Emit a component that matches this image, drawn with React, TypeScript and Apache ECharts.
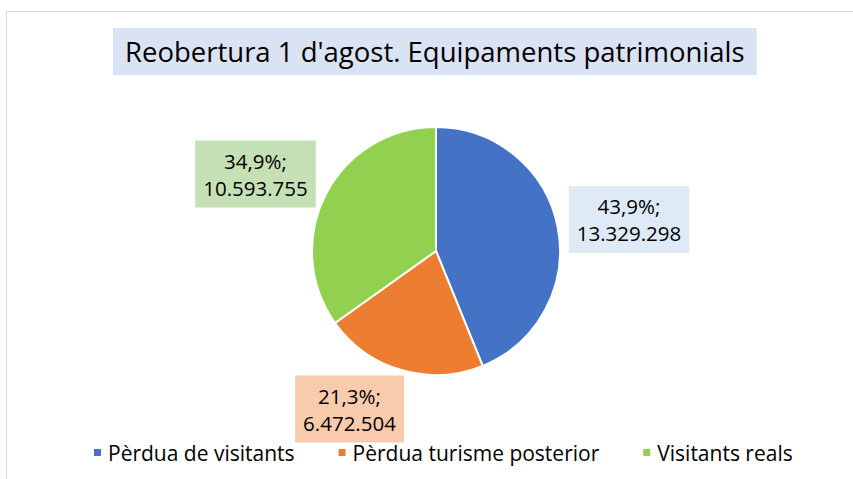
import React, { useEffect, useRef } from "react";
import * as echarts from "echarts";

const categories = ["Pèrdua de visitants", "Pèrdua turisme posterior", "Visitants reals"];
const values = [13329298, 6472504, 10593755];
const colors = ["#4472C4", "#ED7D31", "#92D050"];
const labelBg = ["#DEEBF7", "#F8CBAD", "#C5E0B4"];
const labelPos = [
  [629, 219.5],
  [349.5, 409],
  [255.5, 174],
];

const fmtNum = (v: number) => String(v).replace(/\B(?=(\d{3})+(?!\d))/g, ".");

export default function App() {
  const ref = useRef<HTMLDivElement>(null);
  useEffect(() => {
    if (!ref.current) return;
    const chart = echarts.init(ref.current, null, { renderer: "svg" });
    const total = values.reduce((a, b) => a + b, 0);
    const font = "'Open Sans', sans-serif";
    chart.setOption({
      animation: false,
      backgroundColor: "#ffffff",
      color: colors,
      textStyle: { fontFamily: font },
      title: {
        text: "Reobertura 1 d'agost. Equipaments patrimonials",
        left: 113,
        top: 28,
        backgroundColor: "#DAE3F3",
        padding: [8, 12, 8, 12],
        textStyle: { fontFamily: font, fontSize: 27.5, lineHeight: 31, fontWeight: "normal", color: "#000" },
      },
      graphic: [
        {
          type: "rect",
          shape: { x: 6.5, y: 11.5, width: 900, height: 600 },
          style: { fill: "none", stroke: "#D9D9D9", lineWidth: 1 },
          silent: true,
        },
      ],
      legend: {
        top: 437,
        left: 87,
        icon: "rect",
        itemWidth: 9,
        itemHeight: 9,
        itemGap: 42,
        textStyle: { fontFamily: font, fontSize: 21, color: "#000", padding: [0, 0, 0, 1] },
        data: categories,
      },
      series: [
        {
          type: "pie",
          center: [436, 251],
          radius: [0, 124],
          startAngle: 90,
          clockwise: true,
          itemStyle: { borderColor: "#fff", borderWidth: 2 },
          label: {
            show: true,
            position: "outside",
            fontFamily: font,
            fontSize: 20.5,
            lineHeight: 27,
            color: "#000",
            padding: [7, 8, 6, 8],
            formatter: (p: any) =>
              ((p.value / total) * 100).toFixed(1).replace(".", ",") + "%;\n" + fmtNum(p.value),
          },
          labelLine: { show: false },
          labelLayout: (p: any) => ({
            x: labelPos[p.dataIndex][0],
            y: labelPos[p.dataIndex][1],
            align: "center",
            verticalAlign: "middle",
          }),
          data: categories.map((c, i) => ({
            name: c,
            value: values[i],
            label: { backgroundColor: labelBg[i] },
          })),
        },
      ],
    });
    return () => chart.dispose();
  }, []);
  return <div ref={ref} style={{ position: "fixed", left: 0, top: 0, width: 853, height: 479 }} />;
}
